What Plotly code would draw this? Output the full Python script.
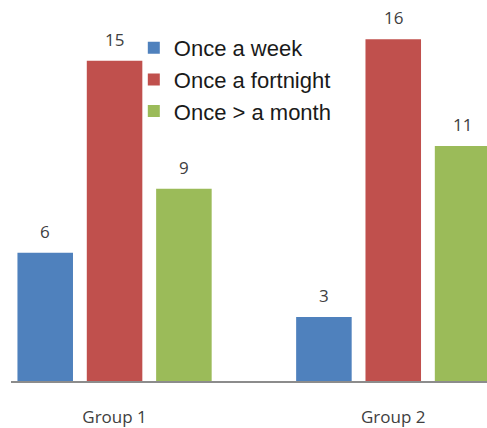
import plotly.graph_objects as go

# Survey responses per group
groups = ["Group 1", "Group 2"]
series_names = ["Once a week", "Once a fortnight", "Once > a month"]
once_a_week = [6, 3]
once_a_fortnight = [15, 16]
once_more_than_month = [9, 11]

colors = ["#4F81BD", "#C0504D", "#9BBB59"]
values = [once_a_week, once_a_fortnight, once_more_than_month]

# pixel distance between neighbouring bars inside a group
bar_step_px = 69.3

fig = go.Figure()
for name, vals, col in zip(series_names, values, colors):
    fig.add_trace(go.Bar(
        x=groups, y=vals, name=name,
        marker=dict(color=col, line=dict(width=0)),
    ))

# value labels above each bar
for i, vals in enumerate(values):
    for g, v in zip(groups, vals):
        fig.add_annotation(
            x=g, y=v, text=str(v), showarrow=False,
            xanchor="center", yanchor="bottom",
            xshift=(i - 1) * bar_step_px, yshift=8,
            font=dict(family="Open Sans", size=17, color="#404040"),
        )

fig.update_layout(
    width=487, height=428,
    margin=dict(l=11, r=0, t=0, b=45),
    paper_bgcolor="white", plot_bgcolor="white",
    barmode="group", bargap=0.2536, bargroupgap=0.199,
    showlegend=True,
    legend=dict(
        x=0.258, y=0.929, xanchor="left", yanchor="top",
        font=dict(family="Liberation Sans", size=22, color="#1a1a1a"),
        bgcolor="rgba(0,0,0,0)", borderwidth=0,
    ),
    xaxis=dict(
        range=[-0.3716, 1.3364], showgrid=False, zeroline=False,
        showline=True, linecolor="#8c8c8c", linewidth=1.5,
        ticks="", ticklabelstandoff=20,
        tickfont=dict(family="Open Sans", size=17, color="#404040"),
    ),
    yaxis=dict(
        range=[0, 17.84], visible=False, showgrid=False, zeroline=False,
    ),
)

fig.write_html("out.html")
